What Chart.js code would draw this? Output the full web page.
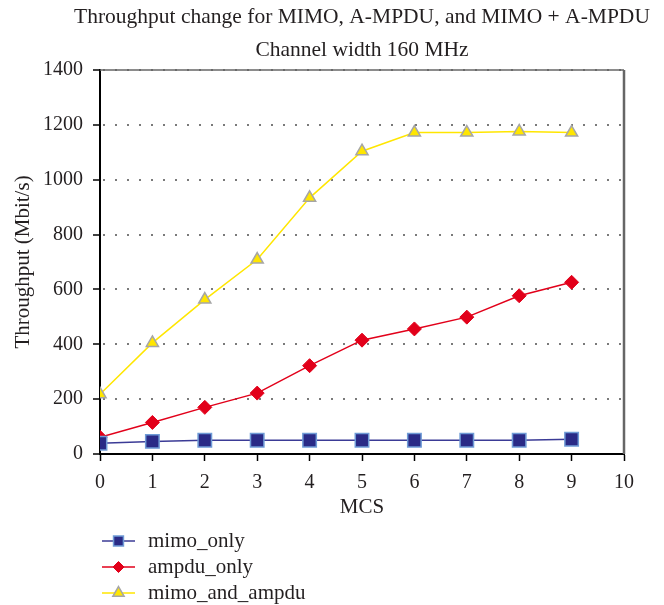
<!DOCTYPE html>
<html>
<head>
<meta charset="utf-8">
<script src="https://cdn.jsdelivr.net/npm/chart.js"></script>
<style>
  html, body { margin: 0; padding: 0; background: #fff; }
  canvas { display: block; }
</style>
</head>
<body>
<canvas id="chart" width="664" height="605"></canvas>
<script>
// Data
const mcs = [0, 1, 2, 3, 4, 5, 6, 7, 8, 9]
const mimoOnly = [39, 46, 50, 50, 50, 50, 50, 50, 50, 54]
const ampduOnly = [61, 115, 170, 222, 322, 415, 456, 499, 577, 626]
const mimoAndAmpdu = [218, 405, 563, 709, 934, 1104, 1172, 1172, 1176, 1172]
const titleLines = ["Throughput change for MIMO, A-MPDU, and MIMO + A-MPDU", "Channel width 160 MHz"]

const FONT = "'Liberation Serif', 'DejaVu Serif', serif"
const TEXT = "#231f20"

const toPoints = vals => vals.map((v, i) => ({ x: mcs[i], y: v }))

// Two-line title centred over the plot area (wider than the plot, so not clipped)
const titlePlugin = {
  id: "plotTitle",
  afterDraw(chart) {
    const { ctx, chartArea: a } = chart
    const cx = (a.left + a.right) / 2
    ctx.save()
    ctx.fillStyle = TEXT
    ctx.font = "21.5px " + FONT
    ctx.textAlign = "center"
    ctx.textBaseline = "middle"
    titleLines.forEach((line, i) => ctx.fillText(line, cx, 17 + i * 33))
    ctx.restore()
  }
}

// Gray frame on top and right, like the original plot box
const framePlugin = {
  id: "frame",
  afterDraw(chart) {
    const { ctx, chartArea: a } = chart
    ctx.save()
    ctx.strokeStyle = "#666"
    ctx.lineWidth = 1.5
    ctx.beginPath()
    ctx.moveTo(a.left, a.top)
    ctx.lineTo(a.right, a.top)
    ctx.stroke()
    ctx.lineWidth = 2.5
    ctx.beginPath()
    ctx.moveTo(a.right, a.top)
    ctx.lineTo(a.right, a.bottom)
    ctx.stroke()
    ctx.restore()
  }
}

// Vertical legend under the plot, built from the datasets
const stackLegend = {
  id: "stackLegend",
  afterDraw(chart) {
    const { ctx } = chart
    const x0 = 102, x1 = 135, textX = 148
    const rows = [541, 567, 593]
    const sizes = [7, 5.5, 6.5]
    ctx.save()
    chart.data.datasets.forEach((ds, i) => {
      const y = rows[i]
      ctx.strokeStyle = ds.borderColor
      ctx.lineWidth = 1.5
      ctx.beginPath()
      ctx.moveTo(x0, y)
      ctx.lineTo(x1, y)
      ctx.stroke()
      ctx.fillStyle = ds.pointBackgroundColor
      ctx.strokeStyle = ds.pointBorderColor
      ctx.lineWidth = ds.pointBorderWidth
      Chart.helpers.drawPoint(ctx, { pointStyle: ds.pointStyle, radius: sizes[i], borderWidth: ds.pointBorderWidth, rotation: 0 }, (x0 + x1) / 2, y)
      ctx.fillStyle = TEXT
      ctx.font = "21px " + FONT
      ctx.textBaseline = "middle"
      ctx.textAlign = "left"
      ctx.fillText(ds.label, textX, y)
    })
    ctx.restore()
  }
}

new Chart(document.getElementById("chart"), {
  type: "line",
  data: {
    datasets: [
      {
        label: "mimo_only",
        data: toPoints(mimoOnly),
        borderColor: "#3b3b96",
        borderWidth: 1.5,
        pointStyle: "rect",
        pointRadius: 9.5,
        pointBackgroundColor: "#2a2a86",
        pointBorderColor: "#6f9bd6",
        pointBorderWidth: 1.5,
        tension: 0
      },
      {
        label: "ampdu_only",
        data: toPoints(ampduOnly),
        borderColor: "#e2001a",
        borderWidth: 1.5,
        pointStyle: "rectRot",
        pointRadius: 7,
        pointBackgroundColor: "#e2001a",
        pointBorderColor: "#e2001a",
        pointBorderWidth: 1,
        tension: 0
      },
      {
        label: "mimo_and_ampdu",
        data: toPoints(mimoAndAmpdu),
        borderColor: "#ffe600",
        borderWidth: 1.5,
        pointStyle: "triangle",
        pointRadius: 7,
        pointBackgroundColor: "#ffe600",
        pointBorderColor: "#a6a6a6",
        pointBorderWidth: 1.5,
        tension: 0
      }
    ]
  },
  options: {
    responsive: false,
    animation: false,
    layout: { padding: { top: 70, left: 11, right: 40, bottom: 85 } },
    plugins: {
      legend: { display: false },
      tooltip: { enabled: false },
      title: { display: false }
    },
    scales: {
      x: {
        type: "linear",
        min: 0,
        max: 10,
        ticks: { stepSize: 1, color: TEXT, font: { family: FONT, size: 20 }, padding: 10 },
        grid: { drawOnChartArea: false, tickLength: 7, tickColor: "#000", tickWidth: 1.5 },
        border: { color: "#000", width: 2 },
        title: { display: true, text: "MCS", color: TEXT, font: { family: FONT, size: 21 }, padding: { top: 0, bottom: 0 } },
        afterFit: s => { s.height = 66 }
      },
      y: {
        min: 0,
        max: 1400,
        ticks: { stepSize: 200, color: TEXT, font: { family: FONT, size: 20 }, padding: 10, callback: v => String(v) },
        grid: { color: "#7a7a7a", lineWidth: 2, tickLength: 7, tickColor: "#000", tickWidth: 1.5 },
        border: { color: "#000", width: 2, dash: [2, 10], dashOffset: -2 },
        title: { display: true, text: "Throughput (Mbit/s)", color: TEXT, font: { family: FONT, size: 21 }, padding: 0 },
        afterFit: s => { s.width = 89 }
      }
    }
  },
  plugins: [titlePlugin, framePlugin, stackLegend]
})
</script>
</body>
</html>
